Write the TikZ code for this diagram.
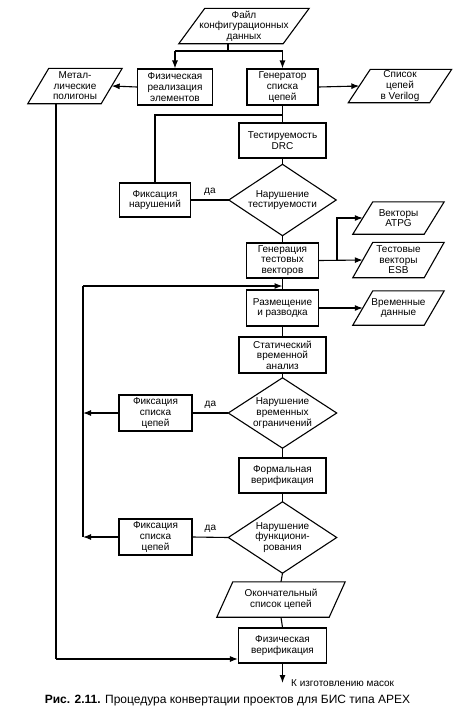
\documentclass[tikz,border=0pt]{standalone}
\usepackage{fontspec}
\setmainfont{Liberation Sans}
\usetikzlibrary{arrows.meta,calc}
\newcommand{\pgram}[2]{\draw[ln] ($(#1.south west)+(-#2,0)$) -- ($(#1.south east)+(-#2,0)$) -- ($(#1.north east)+(#2,0)$) -- ($(#1.north west)+(#2,0)$) -- cycle;}
\newcommand{\dmd}[1]{\draw[ln] (#1.north) -- (#1.east) -- (#1.south) -- (#1.west) -- cycle;}
\begin{document}
\begin{tikzpicture}[x=1pt,y=-1pt,
  ln/.style={line width=1.1pt},
  arr/.style={ln,-{Latex[length=8pt,width=6pt]}},
  txt/.style={inner sep=0pt, align=center, font=\fontsize{10}{10.6}\selectfont},
  box/.style={txt, draw, line width=1.1pt},
  lbl/.style={inner sep=0pt, font=\fontsize{10}{11}\selectfont}
]
\fill[white] (0,0) rectangle (454,718);
\useasboundingbox (0,0) rectangle (454,718);

% top row
\node[txt, minimum width=104, minimum height=35] (cfg) at (244,26) {Файл\\конфигурационных\\данных};
\pgram{cfg}{13}
\node[box, minimum width=75, minimum height=36] (phys) at (175,87) {Физическая\\реализация\\элементов};
\node[box, minimum width=71, minimum height=36] (gen) at (282.5,87) {Генератор\\списка\\цепей};
\node[txt, minimum width=73, minimum height=35] (metal) at (75,86) {Метал-\\лические\\полигоны};
\pgram{metal}{10.5}
\node[txt, minimum width=81, minimum height=33] (verilog) at (400,86) {Список\\цепей\\в Verilog};
\pgram{verilog}{11}

% testability
\node[box, minimum width=87, minimum height=35] (drc) at (282.5,140.5) {Тестируемость\\DRC};
\node[txt, minimum width=107, minimum height=71] (d1) at (282.5,200) {Нарушение\\тестируемости};
\dmd{d1}
\node[box, minimum width=71, minimum height=34] (fix1) at (155,200) {Фиксация\\нарушений};

% test vectors
\node[box, minimum width=72, minimum height=35] (tv) at (282.5,260.5) {Генерация\\тестовых\\векторов};
\node[txt, minimum width=71, minimum height=32] (atpg) at (398.5,218) {Векторы\\ATPG};
\pgram{atpg}{10}
\node[txt, minimum width=71, minimum height=35] (esb) at (398.5,260) {Тестовые\\векторы\\ESB};
\pgram{esb}{10}

% place and route
\node[box, minimum width=72, minimum height=36] (pr) at (282.5,308) {Размещение\\и разводка};
\node[txt, minimum width=71, minimum height=34] (tim) at (398.5,308) {Временные\\данные};
\pgram{tim}{10}

\node[box, minimum width=87, minimum height=36] (sta) at (282.5,355) {Статический\\временной\\анализ};
\node[txt, minimum width=108, minimum height=70] (d2) at (282.5,413) {Нарушение\\временных\\ограничений};
\dmd{d2}
\node[box, minimum width=73, minimum height=36] (fix2) at (155.5,413) {Фиксация\\списка\\цепей};

\node[box, minimum width=87, minimum height=35] (fv) at (282.5,475.5) {Формальная\\верификация};
\node[txt, minimum width=108, minimum height=71] (d3) at (282.5,537.5) {Нарушение\\функциони-\\рования};
\dmd{d3}
\node[box, minimum width=73, minimum height=36] (fix3) at (155.5,537) {Фиксация\\списка\\цепей};

\node[txt, minimum width=112, minimum height=35] (fin) at (281,599.5) {Окончательный\\список цепей};
\pgram{fin}{8}
\node[box, minimum width=88, minimum height=35] (pv) at (282.5,645.5) {Физическая\\верификация};

% coordinates
\coordinate (split) at (228,51);
\coordinate (j1) at (282.5,115);
\coordinate (br) at (337,260);
\coordinate (loopTop) at (83,286);
\coordinate (loopIn) at (282.5,286);
\coordinate (mask) at (282.5,683);
\coordinate (mbot) at (56,659);

% connectors
\draw[ln] (cfg.south -| split) -- (split);
\draw[ln] (phys.north |- split) -- (gen.north |- split);
\draw[arr] (phys.north |- split) -- (phys.north);
\draw[arr] (gen.north |- split) -- (gen.north);
\draw[arr] (phys.west) -- (metal.east);
\draw[arr] (gen.east) -- (verilog.west);

\draw[ln] (gen.south) -- (drc.north);
\draw[ln] (fix1.north) |- (j1);
\draw[ln] (drc.south) -- (d1.north);
\draw[ln] (d1.west) -- node[lbl, above=4pt] {да} (fix1.east);
\draw[ln] (d1.south) -- (tv.north);

\draw[arr] (tv.east) -- (esb.west);
\draw[arr] (br) |- (atpg.west);

\draw[ln] (tv.south) -- (pr.north);
\draw[ln] (fix3.west -| loopTop) -- (loopTop);
\draw[arr] (loopTop) -- (loopIn);
\draw[arr] (pr.east) -- (tim.west);
\draw[ln] (pr.south) -- (sta.north);
\draw[ln] (sta.south) -- (d2.north);
\draw[ln] (d2.west) -- node[lbl, above=4pt] {да} (fix2.east);
\draw[arr] (fix2.west) -- (fix2.west -| loopTop);
\draw[ln] (d2.south) -- (fv.north);
\draw[ln] (fv.south) -- (d3.north);
\draw[ln] (d3.west) -- node[lbl, above=4pt] {да} (fix3.east);
\draw[arr] (fix3.west) -- (fix3.west -| loopTop);
\draw[ln] (d3.south) -- (fin.north);
\draw[ln] (fin.south) -- (pv.north);

\draw[ln] (metal.south -| mbot) -- (mbot);
\draw[arr] (mbot) -- (mbot -| pv.west);
\draw[arr] (pv.south) -- (mask);
\node[lbl, anchor=west] (masklbl) at (291,683) {К изготовлению масок};

\node[inner sep=0pt, font=\fontsize{12}{14}\selectfont] (cap) at (227.5,701) {\textbf{Рис. 2.11.} Процедура конвертации проектов для БИС типа APEX};
\end{tikzpicture}
\end{document}
